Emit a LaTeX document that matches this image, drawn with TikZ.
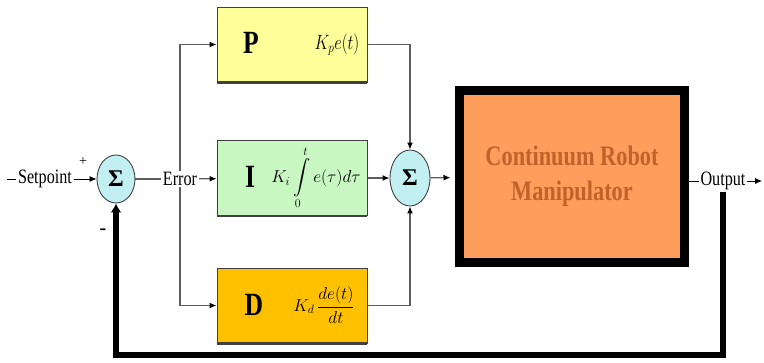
\documentclass[tikz,border=0pt]{standalone}
\usepackage{amsmath}
\usepackage{graphicx}
\usepackage{fontspec}
\setmainfont{Liberation Serif}
\usetikzlibrary{positioning,arrows.meta,shapes.geometric,calc,backgrounds}
\definecolor{pidyellow}{HTML}{FFFF99}
\definecolor{pidgreen}{HTML}{C8F7C2}
\definecolor{pidgold}{HTML}{FFC000}
\definecolor{pidcyan}{HTML}{C2F0F2}
\definecolor{pidedge}{HTML}{404040}
\definecolor{pidwire}{HTML}{5C5C5C}
\definecolor{robfill}{HTML}{FF9E5C}
\definecolor{robtext}{HTML}{C0622A}
% narrow, tall lettering
\newcommand{\tallt}[1]{\scalebox{0.95}[1.2]{#1}}

\begin{document}
\begin{tikzpicture}[x=1pt,y=-1pt,
  blk/.style={draw=pidedge,line width=0.9pt,minimum width=150pt,minimum height=75pt,inner sep=0pt},
  sum/.style={ellipse,draw=pidedge,line width=0.9pt,fill=pidcyan,minimum width=38pt,minimum height=48pt,inner sep=0pt,font=\fontsize{24}{26}\selectfont\bfseries},
  lbl/.style={font=\fontsize{17}{19}\selectfont,inner sep=1.5pt},
  big/.style={font=\fontsize{27}{29}\selectfont\bfseries,inner sep=0pt},
  eq/.style={font=\fontsize{18}{20}\selectfont,inner sep=0pt},
  plant/.style={draw=black,line width=9pt,fill=robfill,minimum width=225pt,minimum height=172pt,align=center,text=robtext,font=\fontsize{23.5}{35}\selectfont\bfseries},
  wire/.style={pidwire,line width=1.3pt},
  arr/.style={wire,-{Latex[length=7pt,width=6pt,color=black]}},
  fb/.style={line width=5.5pt,-{Latex[length=9pt,width=11pt]}}
]
\useasboundingbox (0,0) rectangle (764,362);

% summing junctions and signal labels
\node[sum] (s1) at (116,179) {Σ};
\coordinate (sp) at (7,179);
\node[lbl] (setpt) at (45,179) {\tallt{Setpoint}};
\node[lbl,font=\fontsize{14}{16}\selectfont] (plus) at (83,162) {+};
\node[lbl,font=\fontsize{20}{22}\selectfont\bfseries] (minus) at (103,232) {-};
\node[lbl,fill=white] (err) at (180,179) {\tallt{Error}};

% P, I and D blocks
\node[blk,fill=pidyellow] (P) at (292,44.5) {};
\node[blk,fill=pidgreen] (I) at (292,178) {};
\node[blk,fill=pidgold] (D) at (292,305.5) {};
\foreach \b in {P,I,D}
  \draw[pidedge,line width=2.4pt] (\b.south west) -- (\b.south east);

\node[big] (Pl) at (251,43) {\tallt{P}};
\node[eq,anchor=east] (Pf) at ($(P.east)+(-8,0)$) {\tallt{$K_p e(t)$}};
\node[big] (Il) at (250,177) {\tallt{I}};
\node[eq] (If) at (316,178) {$K_i\displaystyle\int\limits_0^t e(\tau)d\tau$};
\node[big] (Dl) at (254,305) {\tallt{D}};
\node[eq] (Df) at (324,305) {$K_d\,\dfrac{de(t)}{dt}$};

\node[sum,minimum width=40pt,minimum height=56pt] (s2) at (410,178) {Σ};

% plant
\node[plant] (rob) at (572,176.5) {\tallt{Continuum Robot}\\\tallt{Manipulator}};
\node[lbl] (out) at (723,181) {\tallt{Output}};
\coordinate (yout) at (762,181);
\coordinate (fbc) at (723,355);

\begin{scope}[on background layer]
\draw[black,line width=0.8pt] (sp) -- (setpt);
\draw[arr,black,line width=0.8pt] (setpt) -- (s1);
\draw[wire] (s1) -- (err);
\draw[arr] (err) |- (P);
\draw[arr] (err) -- (I);
\draw[arr] (err) |- (D);
\draw[arr] (P) -| (s2);
\draw[arr] (I) -- (s2);
\draw[arr] (D) -| (s2);
\draw[arr,shorten >=4.5pt] (s2) -- (rob);
\draw[black,line width=0.8pt] (out -| rob.east) -- (out);
\draw[arr,black,line width=0.8pt] (out) -- (yout);
\end{scope}

% feedback path
\draw[fb] (out.south) -- (fbc) -| (s1.south);
\end{tikzpicture}
\end{document}
